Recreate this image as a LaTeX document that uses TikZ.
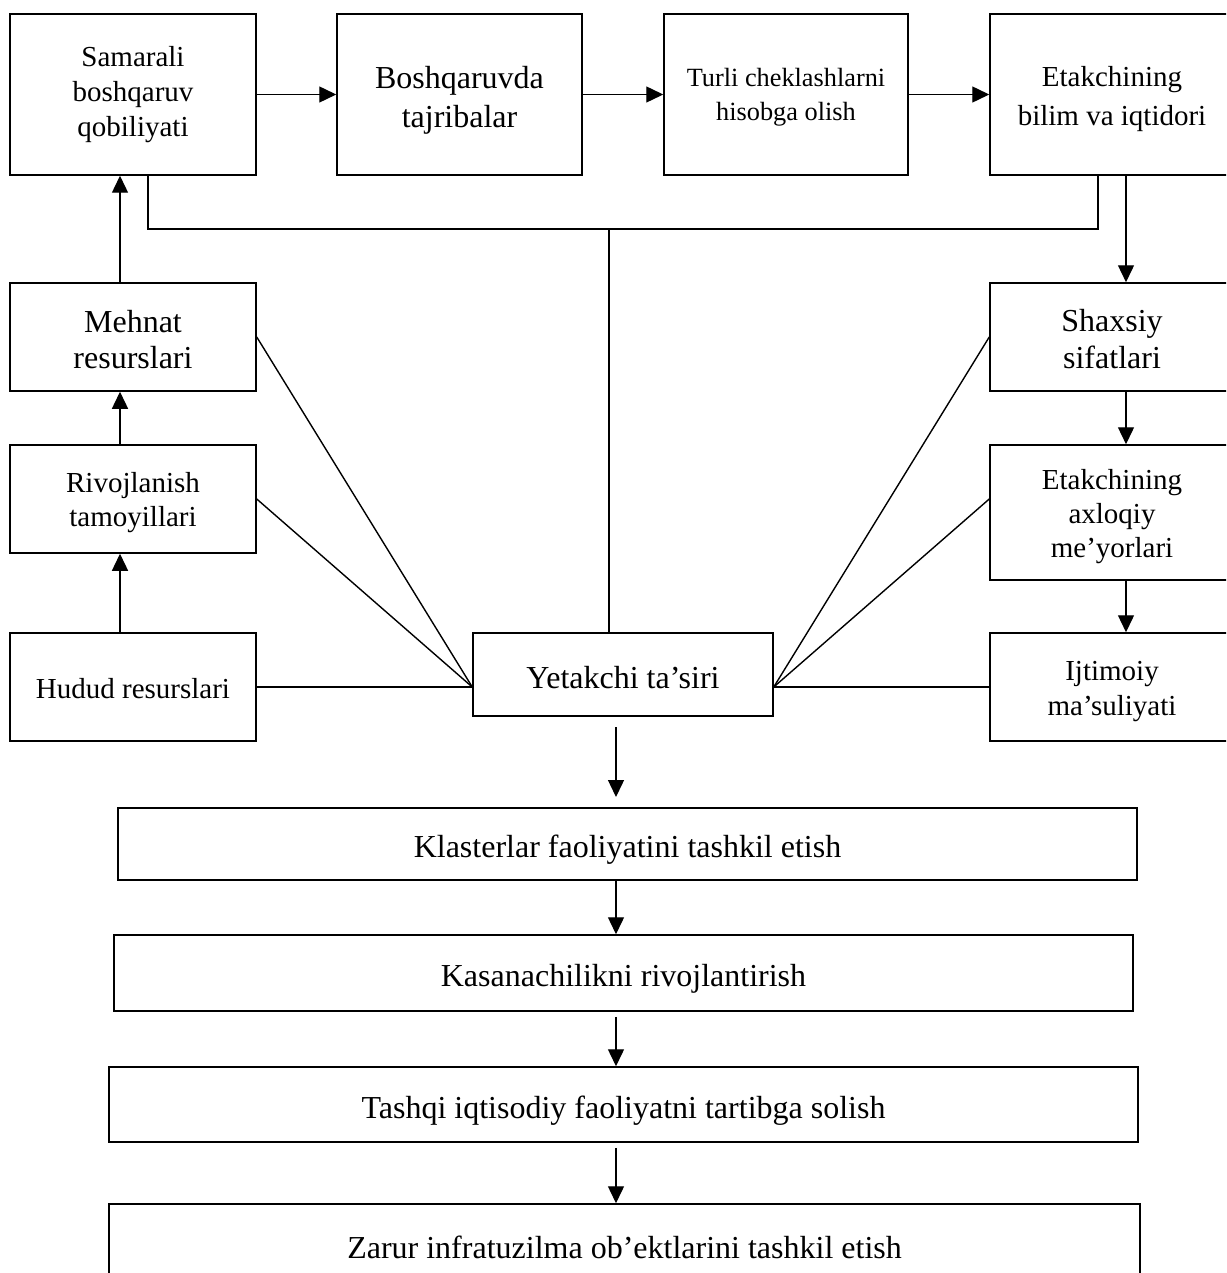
\documentclass[tikz,border=0pt]{standalone}
\usepackage{fontspec}
\setmainfont{Liberation Serif}
\usetikzlibrary{arrows.meta,calc}
\newcommand\ustr[1]{\rule{0pt}{#1}}
\tikzset{
  box/.style={draw, line width=1.5pt, rectangle, align=center, inner sep=0pt},
  fA/.style={font=\fontsize{29}{34}\selectfont},
  fB/.style={font=\fontsize{32}{36.5}\selectfont},
  fC/.style={font=\fontsize{26.3}{34}\selectfont},
  arr/.style={line width=1.4pt, -{Triangle[width=16pt,length=17pt]}},
  ln/.style={line width=1.4pt},
}
\begin{document}
\begin{tikzpicture}[x=1pt,y=-1pt]
\clip (0,0) rectangle (1226,1273);
\fill[white] (0,0) rectangle (1226,1273);
% top row
\node[box,font=\fontsize{29}{35}\selectfont,minimum width=246pt,minimum height=161pt] (s1) at (133,94.5) {Samarali\\boshqaruv\\qobiliyati};
\node[box,font=\fontsize{32}{39}\selectfont,minimum width=245pt,minimum height=161pt] (s2) at (459.5,94.5) {\ustr{34pt}Boshqaruvda\\tajribalar};
\node[box,fC,minimum width=244pt,minimum height=161pt] (s3) at (786,94.5) {\ustr{23pt}Turli cheklashlarni\\hisobga olish};
\node[box,font=\fontsize{29}{39}\selectfont,minimum width=244pt,minimum height=161pt] (s4) at (1112,94.5) {\ustr{30pt}Etakchining\\bilim va iqtidori};
% left column
\node[box,fB,minimum width=246pt,minimum height=108pt] (meh) at (133,337) {\ustr{27pt}Mehnat\\resurslari};
\node[box,fA,minimum width=246pt,minimum height=108pt] (riv) at (133,499) {\ustr{27pt}Rivojlanish\\tamoyillari};
\node[box,fA,minimum width=246pt,minimum height=108pt] (hud) at (133,687) {\ustr{24pt}Hudud resurslari};
% right column
\node[box,fB,minimum width=244pt,minimum height=108pt] (shx) at (1112,337) {\ustr{26pt}Shaxsiy\\sifatlari};
\node[box,fA,minimum width=244pt,minimum height=135pt] (axl) at (1112,512.5) {\ustr{28pt}Etakchining\\axloqiy\\me’yorlari};
\node[box,font=\fontsize{29}{35}\selectfont,minimum width=244pt,minimum height=108pt] (ijt) at (1112,687) {\ustr{29pt}Ijtimoiy\\ma’suliyati};
% centre
\node[box,fB,minimum width=300pt,minimum height=83pt] (yet) at (623,674.5) {\ustr{28pt}Yetakchi ta’siri};
% bottom chain
\node[box,fB,minimum width=1019pt,minimum height=72pt] (kla) at (627.5,844) {\ustr{34pt}Klasterlar faoliyatini tashkil etish};
\node[box,fB,minimum width=1019pt,minimum height=76pt] (kas) at (623.5,973) {\ustr{34pt}Kasanachilikni rivojlantirish};
\node[box,fB,minimum width=1029pt,minimum height=75pt] (tas) at (623.5,1104.5) {\ustr{34pt}Tashqi iqtisodiy faoliyatni tartibga solish};
\node[box,fB,minimum width=1031pt,minimum height=86pt] (zar) at (624.5,1247) {Zarur infratuzilma ob’ektlarini tashkil etish};
% helper coordinates
\coordinate (cL) at (120,0);
\coordinate (cA) at (148,0);
\coordinate (cB) at (1098,0);
\coordinate (cR) at (1126,0);
\coordinate (cM) at (609,0);
\coordinate (cD) at (616,0);
\coordinate (cH) at (0,229);
\coordinate (d1) at (616,727);
\coordinate (d2) at (616,797);
% top arrows
\draw[arr] (s1.east) -- (s2.west);
\draw[arr] (s2.east) -- (s3.west);
\draw[arr] (s3.east) -- (s4.west);
% left column arrows
\draw[arr] (hud.north -| cL) -- (riv.south -| cL);
\draw[arr] (riv.north -| cL) -- (meh.south -| cL);
\draw[arr] (meh.north -| cL) -- (s1.south -| cL);
% right column arrows
\draw[arr] (s4.south -| cR) -- (shx.north -| cR);
\draw[arr] (shx.south -| cR) -- (axl.north -| cR);
\draw[arr] (axl.south -| cR) -- (ijt.north -| cR);
% loop line
\draw[ln] (s1.south -| cA) -- (cA |- cH) -- (cB |- cH) -- (s4.south -| cB);
\draw[ln] (cM |- cH) -- (yet.north -| cM);
% fans
\coordinate (pL) at (yet.west |- hud.east);
\coordinate (pR) at (yet.east |- ijt.west);
\draw[ln] (meh.east) -- (pL);
\draw[ln] (riv.east) -- (pL);
\draw[ln] (hud.east) -- (pL);
\draw[ln] (shx.west) -- (pR);
\draw[ln] (axl.west |- riv.east) -- (pR);
\draw[ln] (ijt.west) -- (pR);
% bottom arrows
\draw[arr] (d1) -- (d2);
\draw[arr] (kla.south -| cD) -- (kas.north -| cD);
\draw[arr,shorten <=5pt] (kas.south -| cD) -- (tas.north -| cD);
\draw[arr,shorten <=5pt] (tas.south -| cD) -- (zar.north -| cD);
\end{tikzpicture}
\end{document}
